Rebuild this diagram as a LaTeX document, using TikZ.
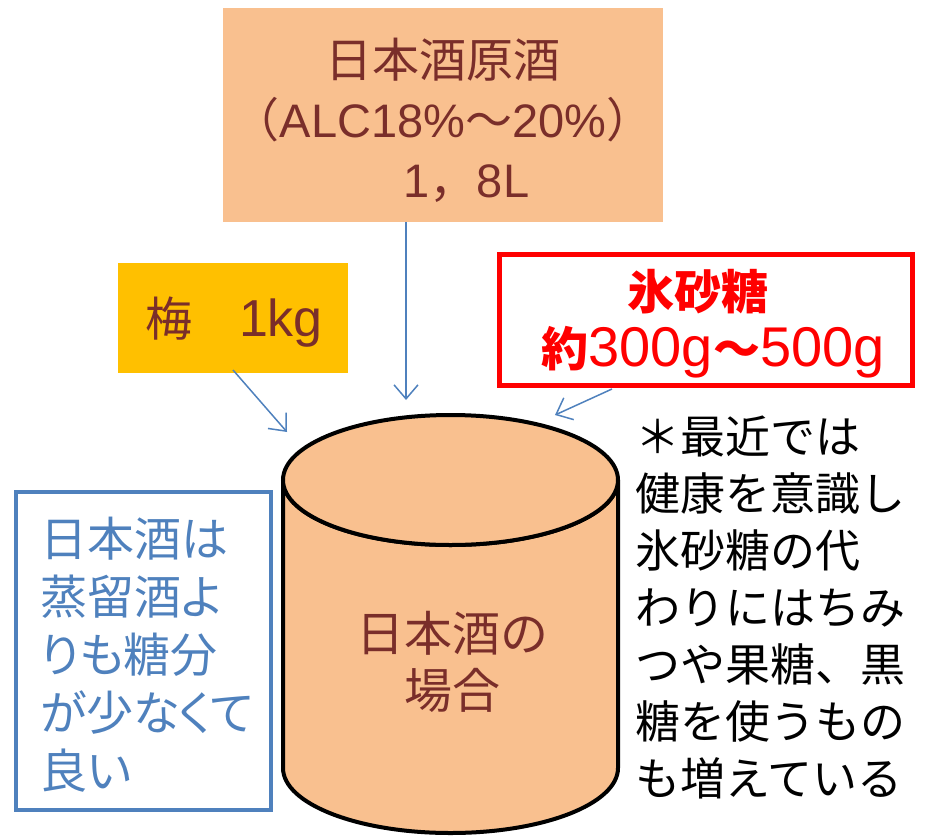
\documentclass[tikz,border=0pt]{standalone}
\usepackage{fontspec}
\setmainfont{Noto Sans CJK JP}
\newfontfamily\lat{Liberation Sans}
\newfontfamily\cjkp[RawFeature=+palt]{Noto Sans CJK JP}
\usetikzlibrary{arrows.meta}
\definecolor{peach}{HTML}{F9C08F}
\definecolor{brownred}{HTML}{7A2E2A}
\definecolor{gold}{HTML}{FFC000}
\definecolor{officeblue}{HTML}{4F81BD}
\definecolor{pureRed}{HTML}{FF0000}
\tikzset{
  arr/.style={draw=officeblue, line width=1.5pt, -{Straight Barb[length=14pt,width=24pt,line width=1.5pt]}},
  bigtext/.style={font=\fontsize{47}{60}\selectfont, inner sep=0pt},
}
\begin{document}
\begin{tikzpicture}[x=1pt,y=-1pt]
\useasboundingbox (0,0) rectangle (931,835);
% top box
\node[fill=peach, minimum width=440pt, minimum height=214pt, inner sep=0pt] (top) at (443,115) {};
\node[bigtext, text=brownred, align=center] (toptext) at (443,120) {日本酒原酒\\（{\lat ALC18\%}～{\lat 20\%}）\\　{\lat 1}，{\lat 8L}};
% ume box
\node[fill=gold, minimum width=230pt, minimum height=110pt, inner sep=0pt] (ume) at (233,318) {};
\node[bigtext, text=brownred] (umetext) at (234,322) {梅　{\lat\fontsize{52}{60}\selectfont 1kg}};
% sugar box
\node[draw=pureRed, line width=5pt, fill=white, minimum width=413pt, minimum height=131pt, inner sep=0pt] (sugar) at (706,320) {};
\node[bigtext, text=pureRed, font=\fontsize{47}{57}\selectfont\bfseries, align=center] (sugartext) at (713,324) {氷砂糖\hspace*{30pt}\\約{\lat\mdseries\fontsize{56}{57}\selectfont 300g}～{\lat\mdseries\fontsize{56}{57}\selectfont 500g}};
% blue box
\node[draw=officeblue, line width=4pt, minimum width=255pt, minimum height=318pt, inner sep=0pt] (note) at (143.5,651) {};
\node[bigtext, text=officeblue, align=left, anchor=west, font=\cjkp\fontsize{47}{58}\selectfont] (notetext) at (40,655) {日本酒は\\蒸留酒よ\\りも糖分\\が少なくて\\良い};
% cylinder
\filldraw[fill=peach, draw=black, line width=4pt, line join=round]
  (283,480) -- (283,768) arc[start angle=180, end angle=0, x radius=167.5, y radius=65]
  -- (618,480) arc[start angle=0, end angle=180, x radius=167.5, y radius=65] -- cycle;
\filldraw[fill=peach, draw=black, line width=4pt] (450.5,480) ellipse [x radius=167.5, y radius=65];
\node[bigtext, text=brownred, align=center, font=\fontsize{48}{57}\selectfont] (cyltext) at (452,662) {日本酒の\\場合};
% right text
\node[bigtext, text=black, align=left, anchor=west, font=\fontsize{45}{57}\selectfont] (righttext) at (635,607) {＊最近では\\健康を意識し\\氷砂糖の代\\わりにはちみ\\つや果糖、黒\\糖を使うもの\\も増えている};
% arrows
\coordinate (t1) at (406,400);
\draw[arr] (top.south -| t1) -- (t1);
\coordinate (u0) at (233,370);
\coordinate (u1) at (287,432);
\draw[arr] (u0) -- (u1);
\coordinate (s0) at (612,389);
\coordinate (s1) at (555,415);
\draw[arr] (s0) -- (s1);
\end{tikzpicture}
\end{document}
